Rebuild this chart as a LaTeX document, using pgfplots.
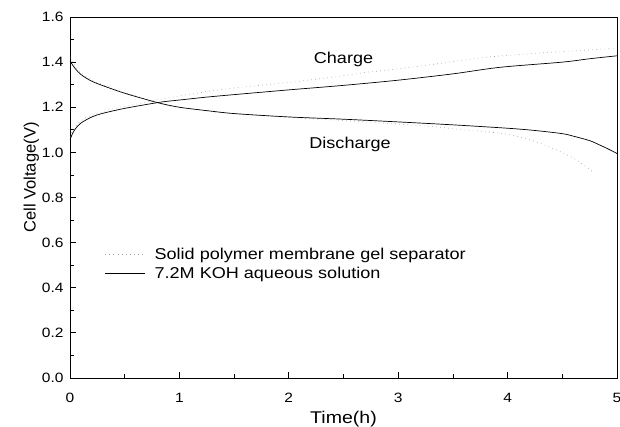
\documentclass[border=0pt]{standalone}
\usepackage{fontspec}
\setmainfont{Liberation Sans}[FakeStretch=1.15]
\newfontfamily\ylabfont{Liberation Sans}
\usepackage{pgfplots}
\pgfplotsset{compat=1.18}

% gel separator (dotted) and KOH solution (solid)
\pgfplotstableread{
t v
0 1.07
0.03 1.10
0.1 1.14
0.2 1.165
0.37 1.19
0.52 1.205
0.82 1.235
1 1.25
1.33 1.275
1.57 1.289
2 1.31
2.5 1.34
2.71 1.355
3 1.37
3.47 1.40
3.81 1.422
4.23 1.438
4.69 1.452
5 1.462
}\gelcharge
\pgfplotstableread{
t v
0 1.42
0.05 1.38
0.1 1.355
0.2 1.32
0.35 1.29
0.5 1.265
0.82 1.218
1 1.198
1.5 1.172
2 1.155
2.4 1.144
3 1.125
3.32 1.114
3.6 1.10
3.93 1.085
4.11 1.068
4.27 1.045
4.46 1.008
4.6 0.975
4.72 0.935
4.79 0.909
}\geldischarge
\pgfplotstableread{
t v
0 1.055
0.02 1.08
0.05 1.105
0.1 1.13
0.2 1.157
0.3 1.173
0.5 1.195
0.82 1.222
1 1.232
1.25 1.245
1.5 1.256
2 1.277
2.5 1.297
3 1.32
3.5 1.348
3.93 1.377
4.5 1.40
4.75 1.415
5 1.428
}\kohcharge
\pgfplotstableread{
t v
0 1.405
0.02 1.39
0.05 1.37
0.1 1.345
0.2 1.315
0.35 1.287
0.5 1.262
0.67 1.238
0.82 1.218
1 1.200
1.25 1.185
1.5 1.172
2 1.157
2.5 1.147
3 1.135
3.5 1.122
4 1.107
4.25 1.097
4.5 1.083
4.6 1.072
4.75 1.052
4.84 1.033
4.92 1.015
5 0.995
}\kohdischarge

\begin{document}
\begin{tikzpicture}
\begin{axis}[
scale only axis,
width=547pt, height=361pt,
xmin=0, xmax=5, ymin=0, ymax=1.6,
xtick={0,1,2,3,4,5},
minor xtick={0.5,1.5,2.5,3.5,4.5},
ytick={0,0.2,0.4,0.6,0.8,1.0,1.2,1.4,1.6},
minor ytick={0.1,0.3,0.5,0.7,0.9,1.1,1.3,1.5},
xtick pos=bottom, ytick pos=left,
tick align=inside,
major tick length=6pt, minor tick length=4pt,
every tick/.style={black, line width=0.8pt},
axis line style={line width=0.9pt},
/pgf/number format/assume math mode=true,
ticklabel style={font=\fontsize{13.5}{15}\selectfont},
yticklabel style={xshift=-3pt, /pgf/number format/.cd, fixed, fixed zerofill, precision=1},
xticklabel style={yshift=-12pt},
xlabel={Time(h)},
ylabel={\ylabfont Cell Voltage(V)},
xlabel style={font=\fontsize{17}{20}\selectfont, yshift=-1pt},
ylabel style={font=\fontsize{16.5}{19}\selectfont, yshift=-4pt, xshift=20pt},
legend style={at={(axis cs:0.29,0.595)}, anchor=north west, draw=none, fill=none,
  font=\fontsize{15.7}{19}\selectfont, row sep=2pt},
legend cell align=left,
legend image code/.code={\draw[#1] (0pt,0pt) -- (40pt,0pt); \path (47pt,0pt);},
]
\addplot[gray!75, line width=0.7pt, dash pattern=on 0.6pt off 3.5pt, smooth] table[x=t, y=v] {\gelcharge};
\addlegendentry{Solid polymer membrane gel separator}
\addplot[black, line width=0.7pt, smooth] table[x=t, y=v] {\kohcharge};
\addlegendentry{7.2M KOH aqueous solution}
\addplot[gray!75, line width=0.7pt, dash pattern=on 0.6pt off 3.5pt, smooth, forget plot] table[x=t, y=v] {\geldischarge};
\addplot[black, line width=0.7pt, smooth, forget plot] table[x=t, y=v] {\kohdischarge};
\node[font=\fontsize{15.7}{19}\selectfont] at (axis cs:2.50,1.414) {Charge};
\node[font=\fontsize{15.7}{19}\selectfont] at (axis cs:2.56,1.033) {Discharge};
\end{axis}
\pgfresetboundingbox
\path[use as bounding box] ([shift={(-70pt,-48pt)}]current axis.south west) rectangle ([shift={(3pt,17pt)}]current axis.north east);
\end{tikzpicture}
\end{document}
